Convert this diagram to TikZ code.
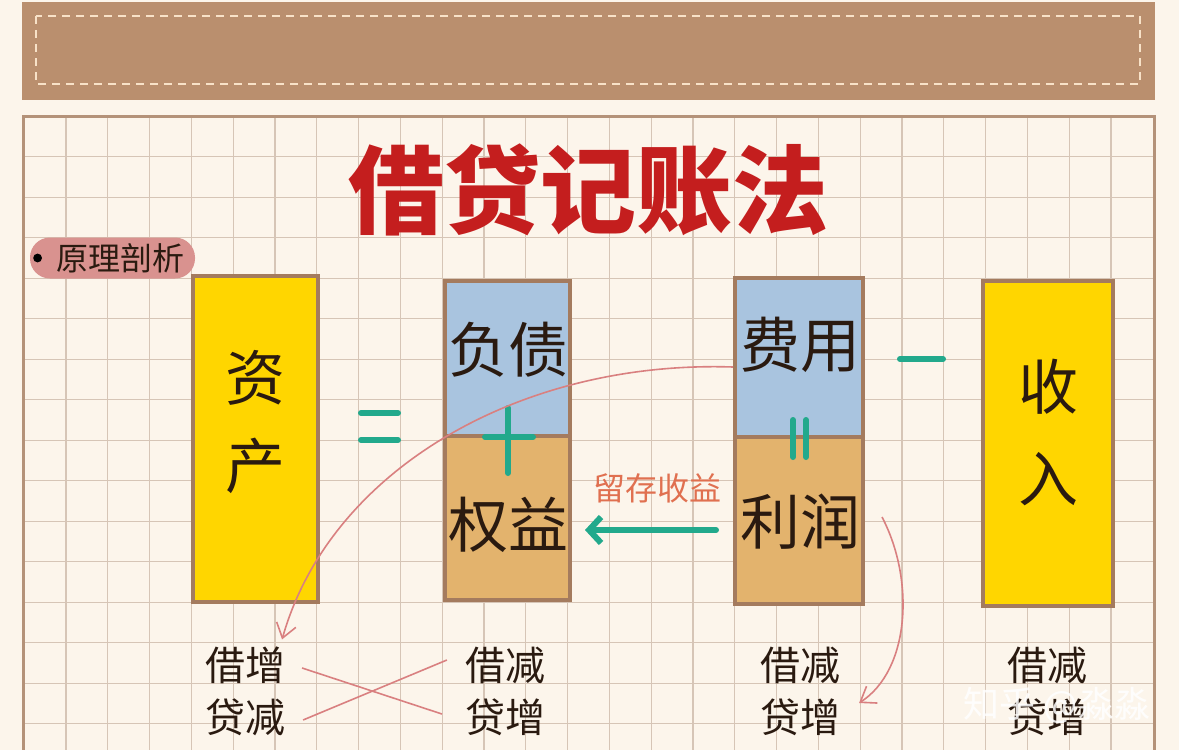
\documentclass[tikz,border=0pt]{standalone}
\usepackage{fontspec}
\newfontfamily\cjk{Noto Sans CJK SC}
\usetikzlibrary{arrows.meta}
\definecolor{paper}{HTML}{FCF5EB}
\definecolor{banner}{HTML}{BA8F6E}
\definecolor{stitch}{HTML}{F8E2C8}
\definecolor{gridc}{HTML}{D6C5B6}
\definecolor{frame}{HTML}{B49279}
\definecolor{boxbrown}{HTML}{A47B5E}
\definecolor{gold}{HTML}{FFD600}
\definecolor{sky}{HTML}{A9C4DF}
\definecolor{tan}{HTML}{E3B36D}
\definecolor{teal}{HTML}{22A98C}
\definecolor{inkred}{HTML}{C41E1E}
\definecolor{pill}{HTML}{D9928F}
\definecolor{rose}{HTML}{D98080}
\definecolor{coral}{HTML}{E07050}
\definecolor{ink}{HTML}{2A1A10}
\tikzset{
  gridline/.style={gridc, line width=0.6pt},
  abox/.style={draw=boxbrown, line width=2pt, minimum width=62.5pt, inner sep=0pt},
  boxtext/.style={text=ink, font=\cjk\fontsize{30pt}{36pt}\selectfont, align=center},
  ledger/.style={text=ink, font=\cjk\fontsize{20pt}{22pt}\selectfont},
  tealline/.style={teal, line width=3pt, line cap=round},
  rosearrow/.style={rose, line width=0.8pt, -{Straight Barb[length=7pt,width=10pt]}},
}
\begin{document}
\begin{tikzpicture}[x=0.5pt,y=-0.5pt]
\useasboundingbox (0,0) rectangle (1179,750);
\clip (0,0) rectangle (1179,750);
\fill[paper] (0,0) rectangle (1179,750);
% banner
\fill[banner] (22,2) rectangle (1155,100);
\draw[stitch, line width=0.8pt, dash pattern=on 4pt off 3pt] (36,16) rectangle (1140,84);
% squared paper
\foreach \k in {0,...,25} \draw[gridline] ({66+41.8*\k},116) -- ({66+41.8*\k},750);
\foreach \k in {0,...,14} \draw[gridline] (23,{156.7+40.5*\k}) -- (1154,{156.7+40.5*\k});
\draw[frame, line width=1.5pt] (23,760) -- (23,116) -- (1154,116) -- (1154,760);
% title and tag
\node[text=inkred, font=\cjk\bfseries\fontsize{48pt}{50pt}\selectfont] (title) at (588,190) {借贷记账法};
\node[fill=pill, rounded corners=10pt, minimum width=82.5pt, minimum height=20.5pt, inner sep=0pt,
  font=\cjk\fontsize{16pt}{18pt}\selectfont, text=ink] (principle) at (112.5,258) {\hspace{8pt}原理剖析};
\fill[black] ([xshift=4pt]principle.west) circle (2.2pt);
% accounts
\node[abox, fill=gold, minimum height=163pt] (asset) at (255.5,439) {};
\node[boxtext] at (255,422) {资\\[8pt]产};
\node[abox, fill=sky, minimum height=77.5pt] (liab) at (507.5,358.5) {};
\node[abox, fill=tan, minimum height=82pt] (equity) at (507.5,518) {};
\node[boxtext] at (508,350) {负债};
\node[boxtext] at (508,525) {权益};
\node[abox, fill=sky, minimum width=64pt, minimum height=79.5pt] (expense) at (799,357.5) {};
\node[abox, fill=tan, minimum width=64pt, minimum height=83.5pt] (profit) at (799,520.5) {};
\node[boxtext] at (800,345) {费用};
\node[boxtext] at (800,522) {利润};
\node[abox, fill=gold, minimum width=65pt, minimum height=162.5pt] (income) at (1048,443.5) {};
\node[boxtext] at (1048,432) {收\\[10pt]入};
% operators
\draw[tealline] (361,413) -- (398,413);
\draw[tealline] (361,440) -- (398,440);
\draw[tealline] (485,437) -- (533,437);
\draw[tealline] (508,408) -- (508,473);
\draw[tealline] (793,420) -- (793,457);
\draw[tealline] (806,420) -- (806,457);
\draw[tealline] (900,359) -- (943,359);
% retained earnings
\draw[tealline, -{Straight Barb[length=6pt,width=13pt]}] ([shift={(-8.5pt,-4.75pt)}]profit.west) -- ([shift={(6.5pt,-6pt)}]equity.east);
\node[text=coral, font=\cjk\fontsize{16pt}{18pt}\selectfont] (retained) at (657,488) {留存收益};
% debit / credit
\node[ledger] (assetDr) at (245,665) {借增};
\node[ledger] (assetCr) at (245,717) {贷减};
\node[ledger] (liabDr) at (505,665) {借减};
\node[ledger] (liabCr) at (505,717) {贷增};
\node[ledger] (expDr) at (800,665) {借减};
\node[ledger] (expCr) at (800,717) {贷增};
\node[ledger] (incDr) at (1047,665) {借减};
\node[ledger] (incCr) at (1047,717) {贷增};
\draw[rose, line width=0.8pt] ([shift={(5pt,-1.5pt)}]assetDr.east) -- ([shift={(-8pt,1.5pt)}]liabCr.west);
\draw[rose, line width=0.8pt] ([shift={(5.5pt,-1.5pt)}]assetCr.east) -- ([shift={(-5.5pt,2.5pt)}]liabDr.west);
\draw[rosearrow] ([yshift=-4.75pt]expense.west) .. controls (520,360) and (330,470) .. ([xshift=-5pt]assetDr.north east);
\draw[rosearrow] ([shift={(8.5pt,1.75pt)}]profit.east) .. controls (915,580) and (910,670) .. ([shift={(6pt,7pt)}]expCr.east);
\node[text=white, opacity=0.85, font=\cjk\fontsize{18pt}{20pt}\selectfont] (mark) at (1057,705) {知乎 @淼淼};
\end{tikzpicture}
\end{document}
